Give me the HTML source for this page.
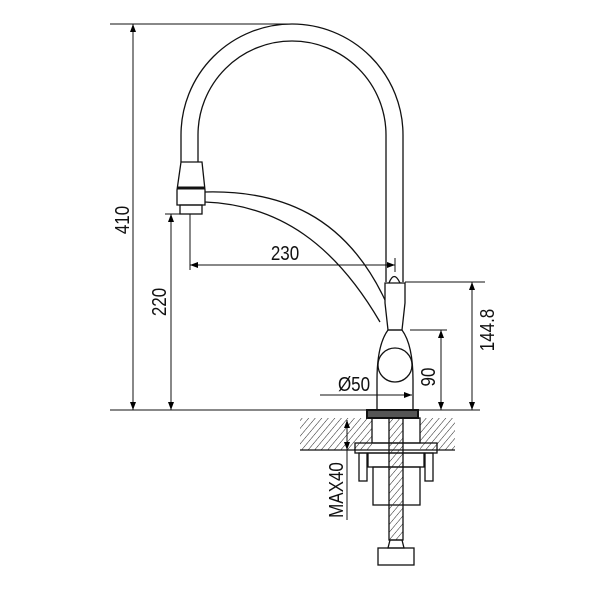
<!DOCTYPE html>
<html><head><style>body{margin:0;background:#fff}svg{display:block}</style></head><body>
<svg width="600" height="600" viewBox="0 0 600 600" xmlns="http://www.w3.org/2000/svg">
<defs>
<pattern id="h" width="5" height="5" patternUnits="userSpaceOnUse" patternTransform="rotate(40)">
<line x1="0" y1="0" x2="0" y2="5" stroke="#222" stroke-width="1"/></pattern>
<marker id="a" markerWidth="8" markerHeight="6" refX="8" refY="3" orient="auto-start-reverse" markerUnits="userSpaceOnUse"><path d="M0,0 L8,3 L0,6z" fill="#000"/></marker>
</defs>
<g fill="none" stroke="#111" stroke-width="1.3">
<path d="M181,162 L181,135 A111,111 0 0 1 403,135 L403,282"/>
<path d="M198,162 L198,135 A94,94 0 0 1 386,135 L386,282"/>
<path d="M181,162 L202,162 L205,190 L205,205 L177,205 L177,190 Z"/>
<line x1="177" y1="188" x2="205" y2="188" stroke-width="3"/>
<rect x="180" y="205" width="22" height="9"/>
<path d="M205,192 C280,190 345,215 385,300"/>
<path d="M205,202 C280,205 335,245 380,322"/>
<path d="M385,283 L405,283 L405,303 L402,330 L388,330 L385,303 Z"/>
<path d="M389,283 Q394,270 400,283"/>
<path d="M388,330 L402,330 Q413,345 413,380 L413,410 L377,410 L377,380 Q377,345 388,330 Z"/>
<circle cx="395" cy="365" r="17"/>
<rect x="367" y="410" width="51" height="8" fill="#555" stroke-width="2"/>
<rect x="300" y="418" width="72" height="32" fill="url(#h)" stroke="none"/>
<rect x="420" y="418" width="35" height="32" fill="url(#h)" stroke="none"/>
<line x1="300" y1="450" x2="455" y2="450"/>
<rect x="372" y="418" width="48" height="25"/>
<rect x="355" y="443" width="82" height="10"/>
<rect x="368" y="453" width="56" height="14"/>
<rect x="373" y="467" width="47" height="38"/>
<rect x="359" y="453" width="8" height="28"/><rect x="425" y="453" width="8" height="28"/>
<rect x="389" y="418" width="14" height="122" fill="url(#h)"/>
<path d="M390,540 L402,540 L404,548 L388,548 Z"/>
<rect x="378" y="548" width="36" height="17"/>
<g stroke-width="1">
<line x1="110" y1="24" x2="292" y2="24"/>
<line x1="110" y1="410" x2="480" y2="410"/>
<line x1="133" y1="24" x2="133" y2="410" marker-start="url(#a)" marker-end="url(#a)"/>
<line x1="165" y1="214" x2="180" y2="214"/>
<line x1="171" y1="214" x2="171" y2="410" marker-start="url(#a)" marker-end="url(#a)"/>
<line x1="190" y1="214" x2="190" y2="270"/>
<line x1="190" y1="265" x2="395" y2="265" marker-start="url(#a)" marker-end="url(#a)"/>
<line x1="395" y1="258" x2="395" y2="272"/>
<line x1="405" y1="282" x2="485" y2="282"/>
<line x1="472" y1="282" x2="472" y2="410" marker-start="url(#a)" marker-end="url(#a)"/>
<line x1="410" y1="330" x2="447" y2="330"/>
<line x1="441" y1="330" x2="441" y2="410" marker-start="url(#a)" marker-end="url(#a)"/>
<line x1="320" y1="395" x2="412" y2="395" marker-end="url(#a)"/>
<line x1="347" y1="420" x2="347" y2="450" marker-start="url(#a)" marker-end="url(#a)"/>
<line x1="347" y1="450" x2="347" y2="520"/>
</g>
</g>
<g font-family="Liberation Sans, sans-serif" font-size="20" fill="#111">
<text transform="translate(285,260) scale(0.85,1)" text-anchor="middle">230</text>
<text transform="translate(354,391) scale(0.85,1)" text-anchor="middle">Ø50</text>
<text transform="translate(129,220) rotate(-90) scale(0.85,1)" text-anchor="middle">410</text>
<text transform="translate(166,302) rotate(-90) scale(0.85,1)" text-anchor="middle">220</text>
<text transform="translate(435,377) rotate(-90) scale(0.85,1)" text-anchor="middle">90</text>
<text transform="translate(494,330) rotate(-90) scale(0.85,1)" text-anchor="middle">144.8</text>
<text transform="translate(343,490) rotate(-90) scale(0.85,1)" text-anchor="middle">MAX40</text>
</g>
</svg>
</body></html>
